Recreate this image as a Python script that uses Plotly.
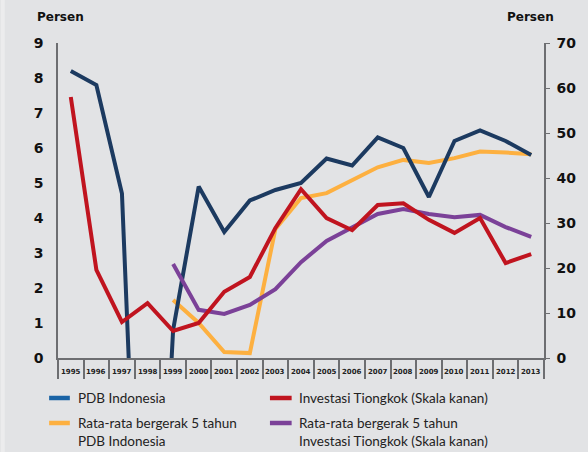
import plotly.graph_objects as go

years = [str(y) for y in range(1995, 2014)]
pdb_indonesia = [8.2, 7.8, 4.7, -13.1, 0.8, 4.9, 3.6, 4.5, 4.8, 5.0, 5.7, 5.5, 6.3, 6.0, 4.6, 6.2, 6.5, 6.2, 5.8]
pdb_ma5 = [None, None, None, None, 1.66, 1.0, 0.17, 0.14, 3.69, 4.57, 4.71, 5.09, 5.45, 5.66, 5.57, 5.71, 5.9, 5.87, 5.82]
inv_tiongkok = [58.0, 19.6, 8.0, 12.2, 6.0, 7.8, 14.7, 18.0, 28.9, 37.5, 31.1, 28.4, 34.0, 34.4, 30.7, 27.8, 31.1, 21.1, 23.1]
inv_ma5 = [None, None, None, None, 20.9, 10.7, 9.8, 11.8, 15.3, 21.3, 26.0, 28.9, 32.0, 33.1, 32.0, 31.3, 31.8, 29.1, 26.9]

left_ticks = [0, 1, 2, 3, 4, 5, 6, 7, 8, 9]
right_ticks = [0, 10, 20, 30, 40, 50, 60, 70]

C_NAVY = "#1c3a60"
C_BLUE_LEG = "#1a63a5"
C_RED = "#c0141f"
C_ORANGE = "#fdb040"
C_PURPLE = "#7b4198"
BG = "#e2e3e5"
AX = "#6d6e71"

fig = go.Figure()
fig.add_trace(go.Scatter(x=years, y=pdb_ma5, mode="lines", line=dict(color=C_ORANGE, width=4), yaxis="y", name="Rata-rata bergerak 5 tahun PDB Indonesia"))
fig.add_trace(go.Scatter(x=years, y=inv_ma5, mode="lines", line=dict(color=C_PURPLE, width=4), yaxis="y2", name="Rata-rata bergerak 5 tahun Investasi Tiongkok"))
fig.add_trace(go.Scatter(x=years, y=inv_tiongkok, mode="lines", line=dict(color=C_RED, width=4), yaxis="y2", name="Investasi Tiongkok (Skala kanan)"))
fig.add_trace(go.Scatter(x=years, y=pdb_indonesia, mode="lines", line=dict(color=C_NAVY, width=4), yaxis="y", name="PDB Indonesia"))

L, R, T, B = 58, 37, 43, 94
W, H = 588, 452
PW = W - L - R
PH = H - T - B

def px(xp):
    return (xp - L) / PW

def py(yp):
    return (H - B - yp) / PH

fig.update_layout(
    width=W, height=H,
    margin=dict(l=L, r=R, t=T, b=B, pad=0),
    paper_bgcolor=BG, plot_bgcolor=BG,
    showlegend=False,
    xaxis=dict(type="category", range=[-0.5, 18.5], showgrid=False, zeroline=False,
               showline=True, linecolor=AX, linewidth=2,
               ticks="outside", tickson="boundaries", ticklen=19, tickcolor=AX, tickwidth=1.5,
               showticklabels=False),
    yaxis=dict(range=[0, 9], tickvals=left_ticks, showgrid=False, zeroline=False,
               showline=True, linecolor=AX, linewidth=1.5, ticks="", ticklabelstandoff=10,
               tickfont=dict(family="DejaVu Sans", size=14, color="#111111", weight="bold")),
    yaxis2=dict(range=[0, 70], tickvals=right_ticks, overlaying="y", side="right", showgrid=False,
                zeroline=False, showline=True, linecolor=AX, linewidth=1.5, ticks="outside",
                ticklen=4, tickcolor=AX, ticklabelstandoff=4,
                tickfont=dict(family="DejaVu Sans", size=14, color="#111111", weight="bold")),
)

ann = []
for i, yr in enumerate(years):
    ann.append(dict(x=i, y=py(372), xref="x", yref="paper", text=yr, showarrow=False,
                    font=dict(family="DejaVu Sans", size=7, color="#222222", weight="bold"),
                    xanchor="center", yanchor="middle"))

ann.append(dict(x=px(61), y=py(17), xref="paper", yref="paper", text="<b>Persen</b>", showarrow=False,
                font=dict(family="DejaVu Sans", size=12, color="#111111"), xanchor="center", yanchor="middle"))
ann.append(dict(x=px(537), y=py(17), xref="paper", yref="paper", text="<b>Persen</b>", showarrow=False,
                font=dict(family="DejaVu Sans", size=12, color="#111111"), xanchor="center", yanchor="middle"))

legend_items = [
    (C_BLUE_LEG, 49, 70, 398, 76, ["PDB Indonesia"]),
    (C_RED, 273, 295, 398, 300, ["Investasi Tiongkok (Skala kanan)"]),
    (C_ORANGE, 49, 70, 423, 76, ["Rata-rata bergerak 5 tahun", "PDB Indonesia"]),
    (C_PURPLE, 273, 295, 423, 300, ["Rata-rata bergerak 5 tahun", "Investasi Tiongkok (Skala kanan)"]),
]
shapes = []
lfont = dict(family="Lato", size=13.5, color="#222222")
for col, x0, x1, yy, tx, lines in legend_items:
    shapes.append(dict(type="line", xref="paper", yref="paper", x0=px(x0), x1=px(x1), y0=py(yy), y1=py(yy),
                       line=dict(color=col, width=4.5)))
    for i, t in enumerate(lines):
        ann.append(dict(x=px(tx), y=py(yy + 18 * i), xref="paper", yref="paper", text=t, showarrow=False,
                        font=lfont, xanchor="left", yanchor="middle"))

# lighter strip at the far left edge as in the reference
shapes.append(dict(type="rect", xref="paper", yref="paper", x0=px(0), x1=px(4), y0=py(452), y1=py(0),
                   fillcolor="#ececed", line=dict(width=0), layer="below"))

fig.update_layout(annotations=ann, shapes=shapes)
fig.write_html("out.html", config={"displayModeBar": False},
               post_script="document.body.style.margin='0';document.body.style.overflow='hidden';")
